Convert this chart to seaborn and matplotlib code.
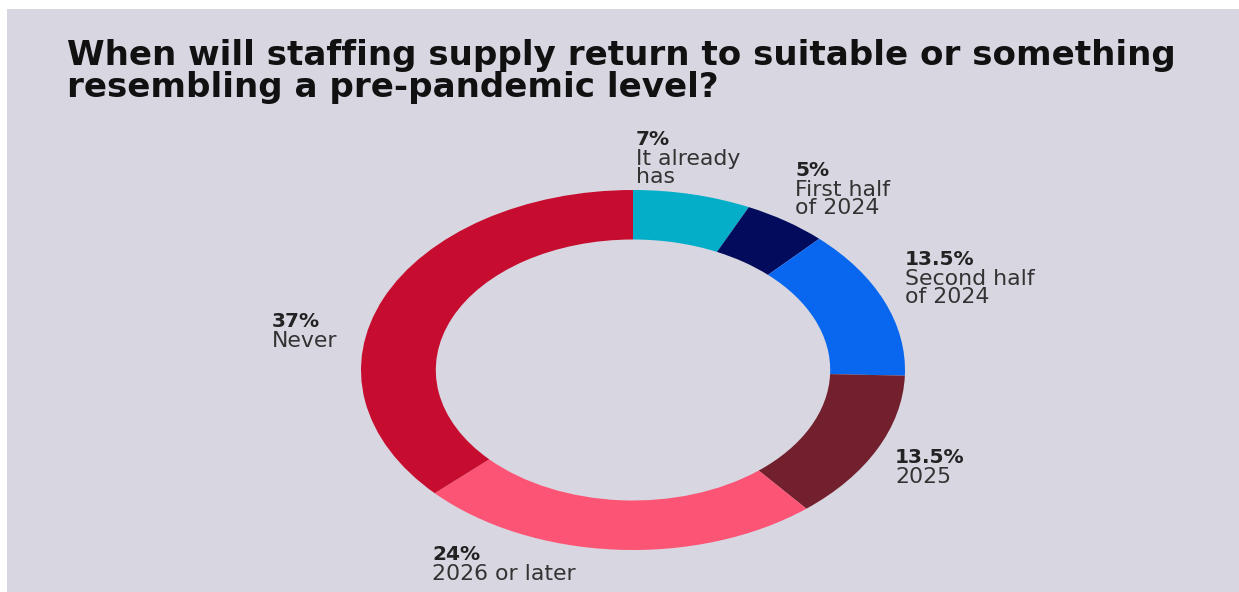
import matplotlib
matplotlib.use("Agg")
import matplotlib.pyplot as plt
from matplotlib.patches import Rectangle
import seaborn as sns

# ---- data ----
categories = ["It already\nhas", "First half\nof 2024", "Second half\nof 2024",
              "2025", "2026 or later", "Never"]
pct_labels = ["7%", "5%", "13.5%", "13.5%", "24%", "37%"]
values = [7, 5, 13.5, 13.5, 24, 37]
colors = ["#04aec8", "#020b5c", "#0867ee", "#73202e", "#fc5474", "#c70d2f"]
title_lines = ["When will staffing supply return to suitable or something",
               "resembling a pre-pandemic level?"]

# ---- layout (pixels in a 1239x592 canvas) ----
W, H = 1239, 592
label_pos = [(636, 130), (795, 161), (905, 250), (895, 448), (432, 545), (272, 312)]
BG = "#d8d6e0"

sns.set_theme(style="white")
plt.rcParams["font.family"] = ["DejaVu Sans"]

fig = plt.figure(figsize=(W / 100, H / 100), dpi=100)
fig.patch.set_facecolor("white")
fig.patches.append(Rectangle((7 / W, 0), 1 - 7 / W, 1 - 9 / H,
                             transform=fig.transFigure, facecolor=BG,
                             edgecolor="none", zorder=-10))

def fx(x):
    return x / W

def fy(y):
    return 1 - y / H

# donut: outer ellipse spans x 361..905, y 190..550
cx, cy, rx, ry = 633, 370, 272, 180
ax = fig.add_axes([fx(cx - rx), fy(cy + ry), 2 * rx / W, 2 * ry / H])
pal = sns.color_palette(colors)
ax.pie(values, colors=pal, startangle=90, counterclock=False,
       wedgeprops=dict(width=0.275, edgecolor="none", linewidth=0))
ax.set_aspect("auto")
ax.set_xlim(-1, 1)
ax.set_ylim(-1, 1)
ax.axis("off")
ax.patch.set_alpha(0)

# title, fitted to the reference width
renderer = fig.canvas.get_renderer()
t1 = fig.text(fx(67), fy(65), title_lines[0], fontsize=24, fontweight="bold",
              color="#111111", ha="left", va="baseline")
w = t1.get_window_extent(renderer).width
size = 24 * 1108 / w
t1.set_fontsize(size)
fig.text(fx(67), fy(97), title_lines[1], fontsize=size, fontweight="bold",
         color="#111111", ha="left", va="baseline")

# labels
for (x, y), p, c in zip(label_pos, pct_labels, categories):
    fig.text(fx(x), fy(y), p, fontsize=14.5, fontweight="bold", color="#222222",
             ha="left", va="top")
    fig.text(fx(x), fy(y + 19), c, fontsize=15.8, color="#333333",
             ha="left", va="top", linespacing=0.88)

fig.savefig("out.png", dpi=100, facecolor=fig.get_facecolor())
